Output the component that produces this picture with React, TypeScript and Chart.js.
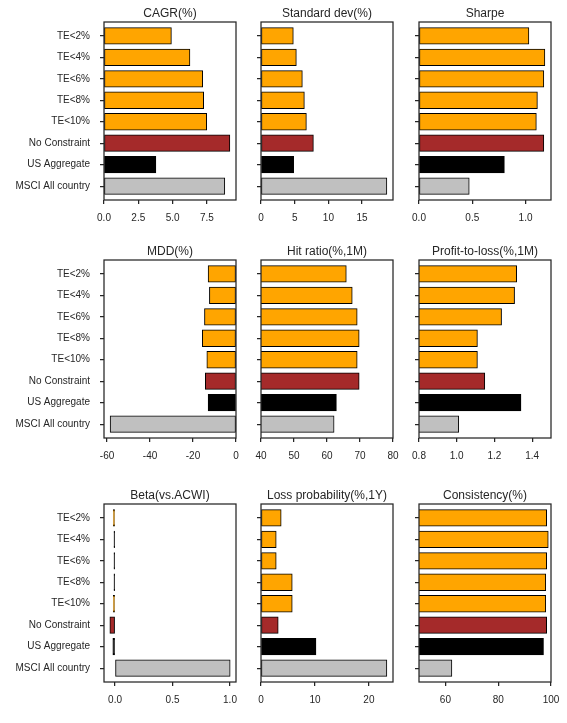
import React, { useEffect, useRef } from "react";
import { Chart, registerables } from "chart.js";

Chart.register(...registerables);

// ---------- data ----------
const categories = [
  "TE<2%",
  "TE<4%",
  "TE<6%",
  "TE<8%",
  "TE<10%",
  "No Constraint",
  "US Aggregate",
  "MSCI All country",
];

const cagr = [4.9, 6.25, 7.18, 7.25, 7.47, 9.16, 3.77, 8.79];
const stdDev = [4.77, 5.22, 6.11, 6.41, 6.71, 7.75, 4.82, 18.65];
const sharpe = [1.03, 1.18, 1.17, 1.11, 1.1, 1.17, 0.8, 0.47];
const mdd = [-12.9, -12.3, -14.6, -15.6, -13.5, -14.2, -12.9, -58.5];
const hitRatio = [65.8, 67.6, 69.1, 69.7, 69.1, 69.7, 62.8, 62.1];
const profitToLoss = [1.317, 1.306, 1.237, 1.109, 1.109, 1.148, 1.34, 1.01];
const beta = [-0.014, -0.008, -0.008, -0.008, -0.014, -0.044, -0.018, 1.0];
const lossProb = [3.71, 2.79, 2.79, 5.76, 5.76, 3.16, 10.16, 23.3];
const consistency = [98.3, 98.9, 98.3, 97.95, 97.95, 98.3, 97.1, 62.4];

const cagrTicks = [0, 2.5, 5, 7.5];
const stdTicks = [0, 5, 10, 15];
const sharpeTicks = [0, 0.5, 1.0];
const mddTicks = [-60, -40, -20, 0];
const hitTicks = [40, 50, 60, 70, 80];
const plTicks = [0.8, 1.0, 1.2, 1.4];
const betaTicks = [0, 0.5, 1.0];
const lossTicks = [0, 10, 20];
const consTicks = [60, 80, 100];

const hitRange = [40, 80];
const plRange = [0.8, 1.5];
const consRange = [50, 100];

const barColors = [
  "#FFA500",
  "#FFA500",
  "#FFA500",
  "#FFA500",
  "#FFA500",
  "#A52A2A",
  "#000000",
  "#C0C0C0",
];

// ---------- layout / style ----------
const COLS = [
  [104, 236],
  [261, 393],
  [419, 551],
];
const ROWS = [
  [22, 200],
  [260, 438],
  [504, 682],
];
const Y_PAD = 0.645; // category-axis padding beyond first/last bar centre
const TEXT = "#262626";
const FONT = '"Liberation Sans", Arial, Helvetica, sans-serif';

function autoLimits(values: number[]): [number, number] {
  const lo = Math.min(0, ...values);
  const hi = Math.max(0, ...values);
  const m = 0.05 * (hi - lo);
  return [lo === 0 ? 0 : lo - m, hi === 0 ? 0 : hi + m];
}

type PanelDef = {
  title: string;
  values: number[];
  ticks: number[];
  decimals: number;
  range?: number[];
};

const panels: PanelDef[] = [
  { title: "CAGR(%)", values: cagr, ticks: cagrTicks, decimals: 1 },
  { title: "Standard dev(%)", values: stdDev, ticks: stdTicks, decimals: 0 },
  { title: "Sharpe", values: sharpe, ticks: sharpeTicks, decimals: 1 },
  { title: "MDD(%)", values: mdd, ticks: mddTicks, decimals: 0 },
  { title: "Hit ratio(%,1M)", values: hitRatio, ticks: hitTicks, decimals: 0, range: hitRange },
  { title: "Profit-to-loss(%,1M)", values: profitToLoss, ticks: plTicks, decimals: 1, range: plRange },
  { title: "Beta(vs.ACWI)", values: beta, ticks: betaTicks, decimals: 1 },
  { title: "Loss probability(%,1Y)", values: lossProb, ticks: lossTicks, decimals: 0 },
  { title: "Consistency(%)", values: consistency, ticks: consTicks, decimals: 0, range: consRange },
];

function Panel({ def, row, col }: { def: PanelDef; row: number; col: number }) {
  const ref = useRef<HTMLCanvasElement | null>(null);
  const [l, r] = COLS[col];
  const [t, b] = ROWS[row];
  const Yw = col === 0 ? 104 : 22;
  const Th = 22;
  const Xh = 28;
  const Rp = 12;
  const left = l - Yw;
  const top = t - Th;
  const width = r - l + Yw + Rp;
  const height = b - t + Th + Xh;

  useEffect(() => {
    const canvas = ref.current;
    if (!canvas) return;
    const n = categories.length;
    const [xmin, xmax] = def.range ? [def.range[0], def.range[1]] : autoLimits(def.values);

    const decor = {
      id: "decor",
      afterDraw(chart: any) {
        const { ctx, chartArea } = chart;
        ctx.save();
        ctx.strokeStyle = TEXT;
        ctx.lineWidth = 1.25;
        ctx.strokeRect(
          chartArea.left,
          chartArea.top,
          chartArea.right - chartArea.left,
          chartArea.bottom - chartArea.top
        );
        ctx.fillStyle = TEXT;
        ctx.font = `12px ${FONT}`;
        ctx.textAlign = "center";
        ctx.textBaseline = "alphabetic";
        ctx.fillText(def.title, (chartArea.left + chartArea.right) / 2, chartArea.top - 5);
        ctx.restore();
      },
    };

    const grid = {
      drawOnChartArea: false,
      drawTicks: true,
      tickLength: 4,
      color: TEXT,
      lineWidth: 1.25,
      offset: false,
    };

    // very thin bars are covered by their edge lines (as in the original)
    const fillFor = (c: any) => {
      const xs = c.chart.scales && c.chart.scales.x;
      const v = c.raw && typeof c.raw === "object" ? c.raw.x : 0;
      if (xs && typeof xs.getPixelForValue === "function") {
        const w = Math.abs(xs.getPixelForValue(v) - xs.getPixelForValue(0));
        if (isFinite(w) && w < 1.2) return "#000000";
      }
      return barColors[c.dataIndex];
    };

    const chart = new Chart(canvas, {
      type: "bar",
      data: {
        datasets: [
          {
            data: def.values.map((v, i) => ({ x: v, y: i })),
            backgroundColor: fillFor,
            borderColor: "#000000",
            borderWidth: 1,
            borderSkipped: false,
            inflateAmount: 0.5,
            barPercentage: 0.76,
            categoryPercentage: 1,
            clip: 0,
          } as any,
        ],
      },
      options: {
        indexAxis: "y",
        responsive: false,
        animation: false,
        devicePixelRatio: 1,
        layout: { padding: { left: 0, top: Th, right: Rp, bottom: 0 } },
        plugins: {
          legend: { display: false },
          tooltip: { enabled: false },
          title: { display: false },
        },
        scales: {
          y: {
            type: "linear",
            reverse: true,
            offset: false,
            min: -Y_PAD,
            max: n - 1 + Y_PAD,
            afterBuildTicks: (s: any) => {
              s.ticks = categories.map((_, i) => ({ value: i }));
            },
            afterFit: (s: any) => {
              s.width = Yw;
              s.paddingTop = 0;
              s.paddingBottom = 0;
              s.paddingLeft = 0;
              s.paddingRight = 0;
            },
            ticks: {
              autoSkip: false,
              padding: 10,
              color: TEXT,
              font: { family: FONT, size: 10 },
              callback: (v: any) => (col === 0 ? categories[Math.round(Number(v))] : ""),
            },
            grid,
            border: { display: false },
          },
          x: {
            type: "linear",
            offset: false,
            min: xmin,
            max: xmax,
            afterBuildTicks: (s: any) => {
              s.ticks = def.ticks.map((v) => ({ value: v }));
            },
            afterFit: (s: any) => {
              s.height = Xh;
              s.paddingLeft = 0;
              s.paddingRight = 0;
              s.paddingTop = 0;
              s.paddingBottom = 0;
            },
            ticks: {
              autoSkip: false,
              maxRotation: 0,
              minRotation: 0,
              padding: 8,
              color: TEXT,
              font: { family: FONT, size: 10 },
              callback: (v: any) => Number(v).toFixed(def.decimals),
            },
            grid,
            border: { display: false },
          },
        },
      } as any,
      plugins: [decor],
    });
    return () => chart.destroy();
  }, []);

  return (
    <canvas
      ref={ref}
      width={width}
      height={height}
      style={{ position: "absolute", left, top, width, height }}
    />
  );
}

export default function App() {
  return (
    <div
      style={{
        position: "absolute",
        left: 0,
        top: 0,
        width: 567,
        height: 723,
        background: "#ffffff",
      }}
    >
      {panels.map((p, i) => (
        <Panel key={i} def={p} row={Math.floor(i / 3)} col={i % 3} />
      ))}
    </div>
  );
}
